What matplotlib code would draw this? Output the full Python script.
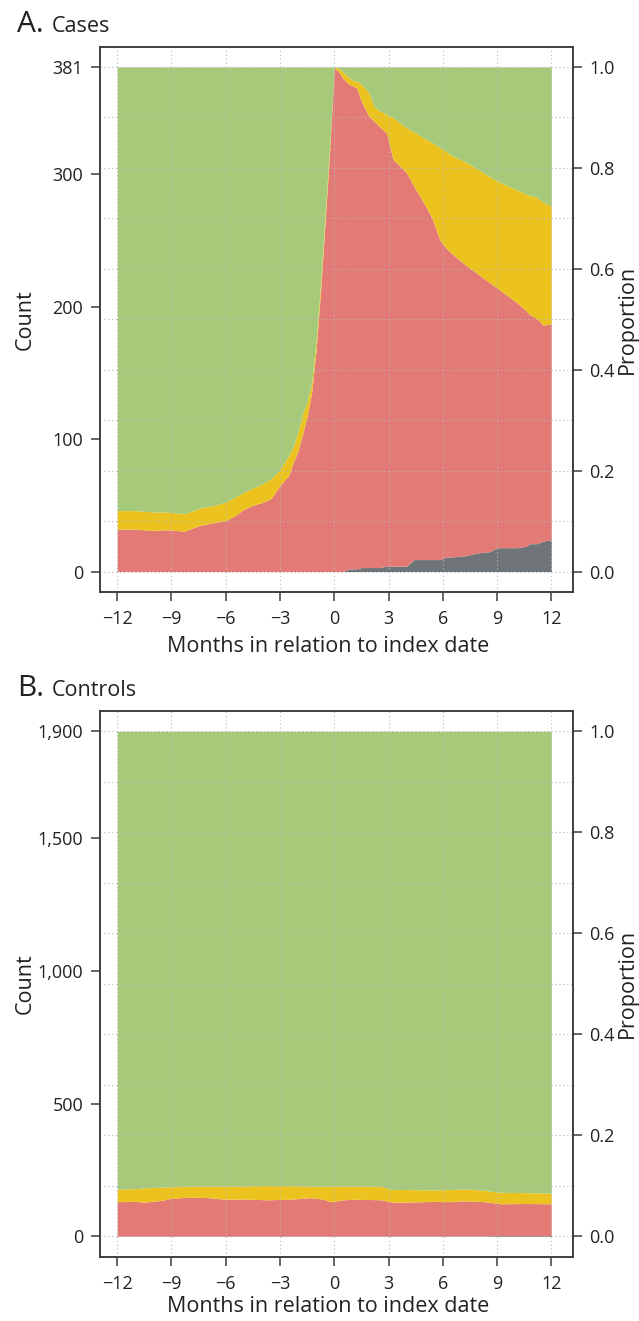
import numpy as np
import matplotlib
matplotlib.use("Agg")
import matplotlib.pyplot as plt

plt.rcParams['font.family'] = ['Open Sans', 'DejaVu Sans']

# ---------------- Data: Panel A (Cases, N = 381) ----------------
total_a = 381
months_a = [-12, -11, -10, -9.25, -8.3, -7.4, -6.6, -6.0, -5.5, -5.0,
            -4.5, -4.0, -3.5, -3.0, -2.5, -2.25, -2.0, -1.75, -1.5, -1.25,
            -1.0, -0.75, -0.5, -0.25, 0.0, 0.25, 0.5, 0.8, 1.0, 1.25,
            1.5, 1.9, 2.2, 2.5, 2.9, 3.25, 3.5, 4.0, 4.4, 4.75,
            5.0, 5.4, 5.85, 6.2, 6.5, 7.3, 7.9, 8.6, 9.0, 9.3,
            10.1, 10.6, 10.8, 11.2, 11.55, 12.0]
grey_a = [0, 0, 0, 0, 0, 0, 0, 0, 0, 0,
          0, 0, 0, 0, 0, 0, 0, 0, 0, 0,
          0, 0, 0, 0, 0, 0, 0, 2, 2, 2,
          3, 3, 3, 3, 4, 4, 4, 4, 9, 9,
          9, 9, 9, 11, 11, 12, 14, 15, 18, 18,
          18, 19, 21, 21, 23, 24]
red_a = [32, 32, 31, 31.5, 30.5, 35, 37, 38.5, 42, 47,
         50, 52, 55, 65, 73, 83, 91, 104, 117, 135,
         168, 213, 265, 318, 381, 377, 372, 366, 365, 363,
         352, 341, 337, 333, 327, 307, 304, 297, 282, 274,
         268, 258, 241, 233, 229, 219, 211, 203, 196, 193,
         185, 178, 173, 170, 163, 163]
yellow_a = [14, 14, 14, 13.5, 13, 13, 13, 14, 14, 13,
            13, 14, 15, 12, 15, 12, 15, 15, 11, 7,
            7, 6, 6, 5, 0, 3, 5, 5, 4, 5,
            13, 18, 11, 12, 14, 32, 32, 34, 41, 46,
            50, 57, 70, 73, 74, 78, 79, 80, 81, 82,
            85, 88, 90, 91.5, 93, 89]

# ---------------- Data: Panel B (Controls, N = 1900) ----------------
total_b = 1900
months_b = [-12, -11, -10.5, -9.5, -9.25, -8.5, -7.8, -7, -6, -5,
            -3.7, -2.5, -1.3, -0.6, -0.2, 0.4, 0.9, 2, 2.6, 3.1,
            3.3, 4.5, 5.5, 6.5, 7.0, 7.3, 8.3, 9.0, 9.2, 10.5, 12.0]
grey_b = [1, 1, 1, 1, 1, 1, 1, 1, 1, 1,
          1, 1, 1, 1, 1, 1, 1, 1, 2, 2,
          2, 2, 2, 2, 2, 2, 2, 3, 3, 3, 3]
red_b = [130, 131, 128, 135, 140, 145, 147, 145, 139, 140,
         137, 139, 145, 139, 130, 136, 139, 138, 136, 129,
         127, 128, 130, 129, 132, 132, 129, 122, 120, 121, 120]
yellow_b = [47, 48, 54, 50, 45, 42, 42, 44, 50, 49,
            54, 51, 44, 49, 59, 53, 50, 51, 50, 47,
            48, 46, 43, 46, 44, 44, 43, 42, 43, 41, 40]

x_ticks = [-12, -9, -6, -3, 0, 3, 6, 9, 12]
count_ticks_a = [0, 100, 200, 300, 381]
count_ticks_b = [0, 500, 1000, 1500, 1900]
count_labels_b = ['0', '500', '1,000', '1,500', '1,900']
prop_ticks = [0.0, 0.2, 0.4, 0.6, 0.8, 1.0]

c_grey = '#6E7478'
c_red = '#E47A76'
c_yellow = '#ECC31E'
c_green = '#A6C97A'
c_text = '#222222'
c_spine = '#3A3A3A'

W, H = 639, 1321
fig = plt.figure(figsize=(W / 100, H / 100), dpi=100)


def draw_panel(top_px, bottom_px, xlab_px, months, grey, red, yellow, total,
               cticks, clabels, letter, name):
    ax = fig.add_axes([100 / W, 1 - bottom_px / H, 473 / W, (bottom_px - top_px) / H])
    m = np.array(months, float)
    g = np.array(grey, float)
    r = np.array(red, float)
    y = np.array(yellow, float)
    t1 = g
    t2 = g + r
    t3 = t2 + y
    ax.fill_between(m, 0, t1, color=c_grey, lw=0, zorder=1)
    ax.fill_between(m, t1, t2, color=c_red, lw=0, zorder=1)
    ax.fill_between(m, t2, t3, color=c_yellow, lw=0, zorder=1)
    ax.fill_between(m, t3, total, color=c_green, lw=0, zorder=1)

    pad = 0.04 * total
    ax.set_xlim(-12.95, 13.2)
    ax.set_ylim(-pad, total + pad)

    # grid (dotted, drawn over the areas)
    for xv in x_ticks:
        ax.axvline(xv, color='#B8B8B8', lw=0.8, ls=(0, (1, 2.5)), zorder=3)
    for pv in np.arange(0, 1.01, 0.1):
        ax.axhline(pv * total, color='#B8B8B8', lw=0.8, ls=(0, (1, 2.5)), zorder=3)

    ax.set_xticks(x_ticks)
    ax.set_xticklabels([str(v).replace('-', '\u2212') for v in x_ticks])
    ax.set_yticks(cticks)
    ax.set_yticklabels(clabels)
    for s in ax.spines.values():
        s.set_color(c_spine)
        s.set_linewidth(1.1)
    ax.tick_params(direction='out', length=6.5, width=1.1, color=c_spine,
                   labelsize=13, labelcolor=c_text)
    ax.tick_params(axis='x', pad=7)
    ax.tick_params(axis='y', pad=5.5)

    ax2 = ax.twinx()
    ax2.set_ylim(-pad / total, 1 + pad / total)
    ax2.set_yticks(prop_ticks)
    ax2.set_yticklabels(['%.1f' % v for v in prop_ticks])
    ax2.tick_params(direction='out', length=6.5, width=1.1, color=c_spine,
                    labelsize=13, labelcolor=c_text, pad=5)
    for s in ax2.spines.values():
        s.set_color(c_spine)
        s.set_linewidth(1.1)

    cy = 1 - (top_px + bottom_px) / 2 / H
    fig.text(25 / W, cy, 'Count', rotation=90, ha='center', va='center',
             fontsize=15.5, color=c_text)
    fig.text(627 / W, cy, 'Proportion', rotation=90, ha='center', va='center',
             fontsize=15.5, color=c_text)
    fig.text(328 / W, 1 - xlab_px / H, 'Months in relation to index date',
             ha='center', va='center', fontsize=15.5, color=c_text)
    base = 1 - (top_px - 14.5) / H
    fig.text(17 / W, base, letter, ha='left', va='baseline', fontsize=21.5, color=c_text)
    fig.text(52 / W, base, name, ha='left', va='baseline', fontsize=15.5, color=c_text)
    return ax


draw_panel(46.7, 591.7, 647, months_a, grey_a, red_a, yellow_a, total_a,
           count_ticks_a, [str(v) for v in count_ticks_a], 'A.', 'Cases')
draw_panel(711, 1256.7, 1306, months_b, grey_b, red_b, yellow_b, total_b,
           count_ticks_b, count_labels_b, 'B.', 'Controls')

fig.savefig('out.png', dpi=100, facecolor='white')
